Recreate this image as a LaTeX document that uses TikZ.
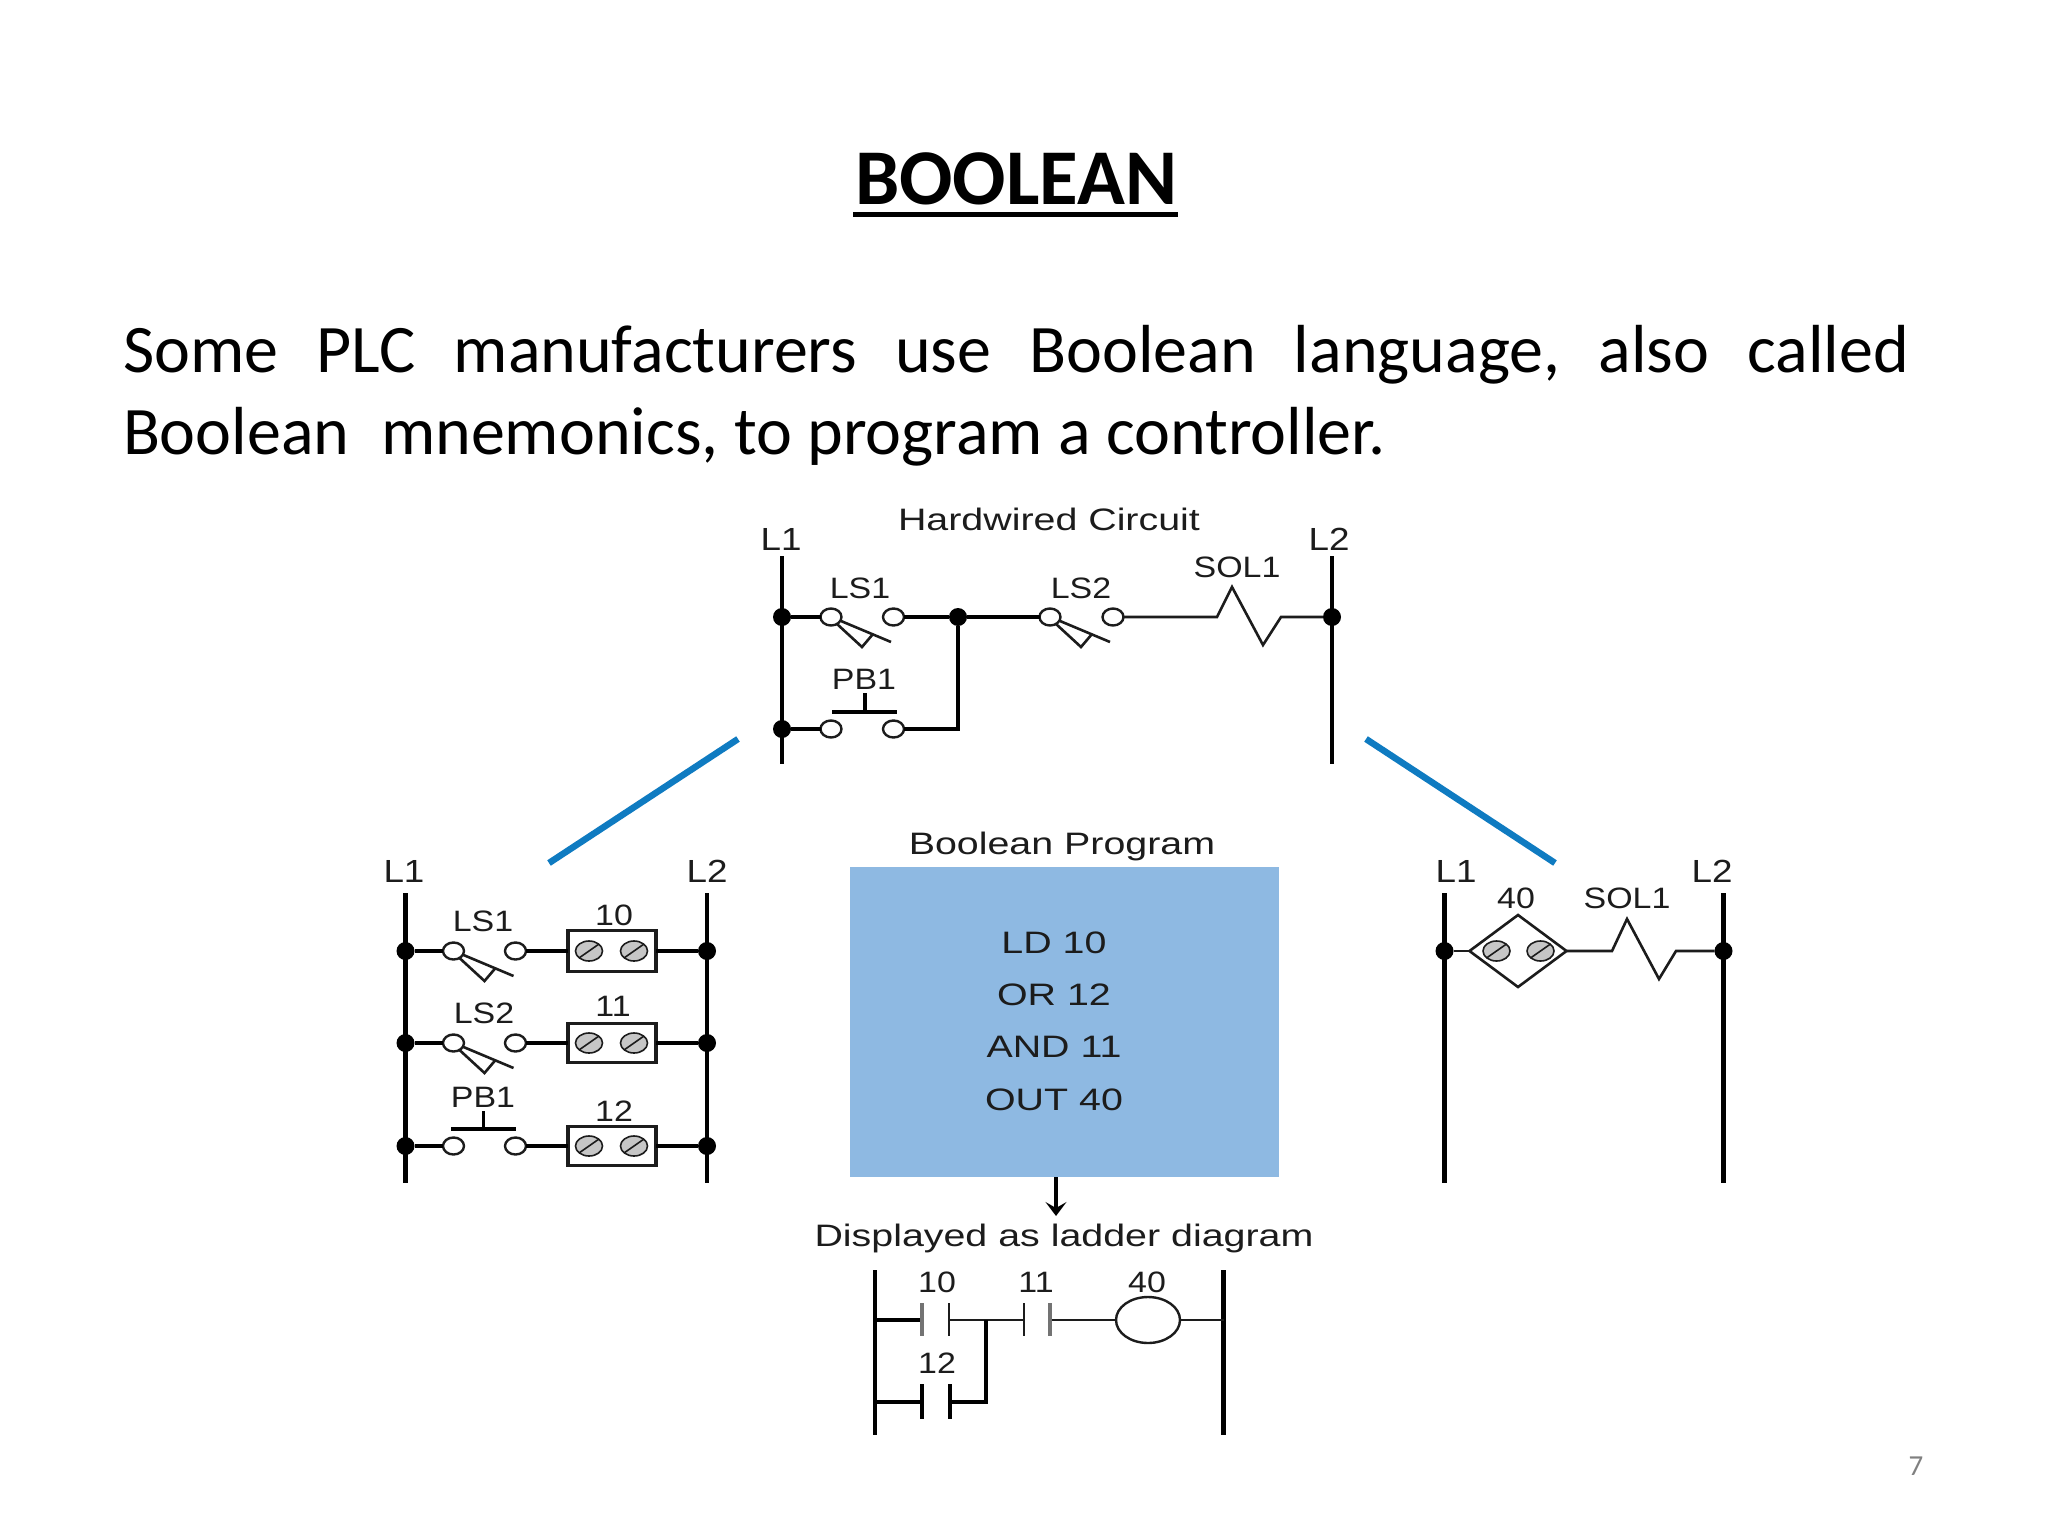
\documentclass[tikz,border=0pt]{standalone}
\usepackage{fontspec}
\usetikzlibrary{shapes.geometric,arrows.meta}
\setmainfont{Carlito}
\newfontfamily\smallfam[FakeStretch=1.15]{Liberation Sans}
\newfontfamily\bigfam[FakeStretch=1.27]{Liberation Sans}
\definecolor{ink}{HTML}{1C1C1C}
\definecolor{bluebox}{HTML}{8EB9E2}
\definecolor{blueline}{HTML}{0F7BC1}
\definecolor{screwgray}{HTML}{C6C6C6}
\tikzset{
  x=1pt,y=-1pt,
  every node/.style={inner sep=0pt,outer sep=0pt},
  rail/.style={line width=4.4pt,black},
  wire/.style={line width=3.4pt,black},
  thinwire/.style={line width=2.6pt,ink,line join=miter},
  term/.style={draw=ink,line width=2.4pt,fill=white,ellipse,minimum width=21pt,minimum height=17pt},
  dot/.style={circle,fill=black,minimum size=18pt},
  screw/.style={draw=ink,line width=1.6pt,fill=screwgray,ellipse,minimum width=27pt,minimum height=20pt},
  lab/.style={font=\smallfam\fontsize{29.5}{33}\selectfont,text=ink},
  railname/.style={font=\smallfam\fontsize{32}{36}\selectfont,text=ink},
  head/.style={font=\bigfam\fontsize{31}{36}\selectfont,text=ink},
  body/.style={font=\fontsize{68}{74}\selectfont,text=black,anchor=base west},
  slash/.style={blueline,line width=6.5pt},
}
% arm and cam of a limit switch whose left terminal is node #1
\newcommand{\armsw}[1]{%
  \draw[thinwire] (#1.center) ++(10,4) -- ++(50,21);
  \draw[thinwire,line join=miter] (#1.center) ++(6,7) -- ++(25,23) -- ++(11,-13);
}
% a slotted screw
\newcommand{\screwat}[2]{%
  \node[screw] (#1) at (#2) {};
  \draw[ink,line width=1.6pt] (#1.center) ++(-10,7) -- ++(20,-14);
}
\begin{document}
\begin{tikzpicture}
\useasboundingbox (0,0) rectangle (2048,1536);
\fill[white] (0,0) rectangle (2048,1536);

% Title
\node[font=\bfseries\fontsize{79}{84}\selectfont,anchor=base] (title) at (1016,204) {BOOLEAN};
\draw[line width=5pt,black] (853,214.5) -- (1178,214.5);

% Body
\node[body] (l1) at (123,372) {\hbox to 1786pt{Some\hfill PLC\hfill manufacturers\hfill use\hfill Boolean\hfill language,\hfill also\hfill called}};
\node[body] (l2) at (123,454.5) {Boolean\hspace{0.24em} mnemonics, to program a controller.};

% Slashes
\coordinate (sl1) at (738,739); \coordinate (sl2) at (549,863);
\coordinate (sr1) at (1366,739); \coordinate (sr2) at (1555,863);
\draw[slash] (sl1) -- (sl2);
\draw[slash] (sr1) -- (sr2);

%%% Hardwired circuit
\node[head] (hwt) at (1049,519) {Hardwired Circuit};
\node[railname] (hL1) at (781,539) {L1};
\node[railname] (hL2) at (1329,539) {L2};
\coordinate (hA) at (782,556); \coordinate (hAb) at (782,764);
\coordinate (hB) at (1332,556); \coordinate (hBb) at (1332,764);
\draw[rail] (hA) -- (hAb);
\draw[rail] (hB) -- (hBb);
\node[dot] (hd1) at (782,617) {};
\node[dot] (hd2) at (782,729) {};
\node[dot] (hd3) at (958,617) {};
\node[dot] (hd4) at (1332,617) {};
\node[term] (hls1a) at (831,617) {};
\node[term] (hls1b) at (893.5,617) {};
\node[term] (hls2a) at (1050,617) {};
\node[term] (hls2b) at (1113,617) {};
\node[term] (hpba) at (831,729) {};
\node[term] (hpbb) at (893.5,729) {};
\draw[wire] (hd1) -- (hls1a);
\draw[wire] (hls1b) -- (hd3);
\draw[wire] (hd3) -- (hls2a);
\draw[wire] (hd2) -- (hpba);
\draw[wire] (hpbb.east) -- (hpbb.east -| hd3) -- (hd3);
\armsw{hls1a}
\armsw{hls2a}
\coordinate (hbarl) at (832,712); \coordinate (hbarr) at (897,712);
\coordinate (hstem) at (865,693); \coordinate (hstemb) at (865,712);
\draw[wire] (hbarl) -- (hbarr);
\draw[wire] (hstem) -- (hstemb);
\draw[thinwire] (hls2b) -- (1217,617) -- (1232,587) -- (1263,645) -- (1281,617) -- (hd4);
\node[lab] (hls1t) at (860,588) {LS1};
\node[lab] (hls2t) at (1081,588) {LS2};
\node[lab] (hpbt) at (864,679) {PB1};
\node[lab] (hsol) at (1237,567) {SOL1};

%%% Left circuit
\node[railname] (aL1) at (404,871) {L1};
\node[railname] (aL2) at (707,871) {L2};
\coordinate (aA) at (405.5,893); \coordinate (aAb) at (405.5,1183);
\coordinate (aB) at (707,893); \coordinate (aBb) at (707,1183);
\draw[rail] (aA) -- (aAb);
\draw[rail] (aB) -- (aBb);
\foreach \n/\yy/\h in {1/951/20.5,2/1043/19.5,3/1146/19.5}{
  \node[dot] (ad\n) at (405.5,\yy) {};
  \node[dot] (ae\n) at (707,\yy) {};
  \node[term] (at\n a) at (453.5,\yy) {};
  \node[term] (at\n b) at (515.5,\yy) {};
  \node[draw=ink,line width=3.8pt,fill=white,minimum width=88pt,minimum height=2*\h pt] (abox\n) at (612,\yy) {};
  \draw[wire] (ad\n) -- (at\n a);
  \draw[wire] (at\n b) -- (abox\n);
  \draw[wire] (abox\n) -- (ae\n);
  \screwat{as\n a}{589,\yy}
  \screwat{as\n b}{634,\yy}
}
\armsw{at1a}
\armsw{at2a}
\coordinate (abarl) at (451,1129); \coordinate (abarr) at (516,1129);
\coordinate (astem) at (483.5,1111); \coordinate (astemb) at (483.5,1129);
\draw[wire] (abarl) -- (abarr);
\draw[wire] (astem) -- (astemb);
\node[lab] (als1) at (483,921) {LS1};
\node[lab] (als2) at (484,1013) {LS2};
\node[lab] (apb) at (483,1097) {PB1};
\node[lab] (a10) at (614,915) {10};
\node[lab] (a11) at (613,1006) {11};
\node[lab] (a12) at (614,1111) {12};

%%% Right circuit
\node[railname] (rL1) at (1456,871) {L1};
\node[railname] (rL2) at (1712,871) {L2};
\coordinate (rA) at (1444.5,893); \coordinate (rAb) at (1444.5,1183);
\coordinate (rB) at (1723.5,893); \coordinate (rBb) at (1723.5,1183);
\draw[rail] (rA) -- (rAb);
\draw[rail] (rB) -- (rBb);
\node[dot] (rd1) at (1444.5,951) {};
\node[dot] (rd2) at (1723.5,951) {};
\node[diamond,draw=ink,line width=2.6pt,minimum width=97pt,minimum height=72pt,aspect=1.35] (rdia) at (1518,951) {};
\draw[thinwire] (rd1) -- (rdia.west);
\draw[thinwire] (rdia.east) -- (1612,951) -- (1627,919) -- (1659,979) -- (1676,951) -- (rd2);
\screwat{rs1}{1496.5,951}
\screwat{rs2}{1540.5,951}
\node[lab] (r40) at (1516,898) {40};
\node[lab] (rsol) at (1627,898) {SOL1};

%%% Boolean program box
\node[head] (bpt) at (1062,846) {Boolean Program};
\node[fill=bluebox,minimum width=429pt,minimum height=310pt] (bbox) at (1064.5,1022) {};
\node[head] (p1) at (1054,943) {LD 10};
\node[head] (p2) at (1054,995) {OR 12};
\node[head] (p3) at (1054,1047) {AND 11};
\node[head] (p4) at (1054,1100) {OUT 40};
\coordinate (arrowstart) at (1056,1177);
\coordinate (arrowend) at (1056,1216);
\draw[line width=3.6pt,black,-{Stealth[length=14pt,width=21pt,inset=6pt]}] (arrowstart) -- (arrowend);

%%% Ladder
\node[head] (ldt) at (1064,1238) {Displayed as ladder diagram};
\coordinate (lA) at (875,1270); \coordinate (lAb) at (875,1435);
\coordinate (lB) at (1223.5,1270); \coordinate (lBb) at (1223.5,1435);
\draw[rail] (lA) -- (lAb);
\draw[rail] (lB) -- (lBb);
\coordinate (c1l) at (922,1320); \coordinate (c1r) at (949,1320);
\coordinate (c2l) at (1024,1320); \coordinate (c2r) at (1050,1320);
\coordinate (c3l) at (922,1402); \coordinate (c3r) at (950,1402);
\coordinate (jn) at (986,1320); \coordinate (jb) at (986,1402);
\node[draw=ink,line width=2.4pt,ellipse,minimum width=64pt,minimum height=46pt] (coil) at (1148,1320) {};
\draw[wire] (lA |- c1l) -- (c1l);
\draw[thinwire] (c1r) -- (jn) -- (c2l);
\draw[thinwire] (c2r) -- (coil);
\draw[thinwire] (coil) -- (lB |- coil);
\draw[wire] (lA |- c3l) -- (c3l);
\draw[line width=4.4pt,black] (c3r) -- (jb) -- (jn);
\draw[line width=4.2pt,black!55!white] (922,1303) -- (922,1336);
\draw[line width=2.8pt,ink] (949,1303) -- (949,1336);
\draw[line width=2.8pt,ink] (1024,1303) -- (1024,1336);
\draw[line width=4.2pt,black!55!white] (1050,1303) -- (1050,1336);
\draw[rail] (922,1384) -- (922,1419);
\draw[rail] (950,1384) -- (950,1419);
\node[lab] (l10) at (937,1282) {10};
\node[lab] (l11) at (1036,1282) {11};
\node[lab] (l40) at (1147,1282) {40};
\node[lab] (l12) at (937,1363) {12};

% Page number
\node[font=\fontsize{29}{32}\selectfont,text=black!50] (pg) at (1916,1466) {7};
\end{tikzpicture}
\end{document}
